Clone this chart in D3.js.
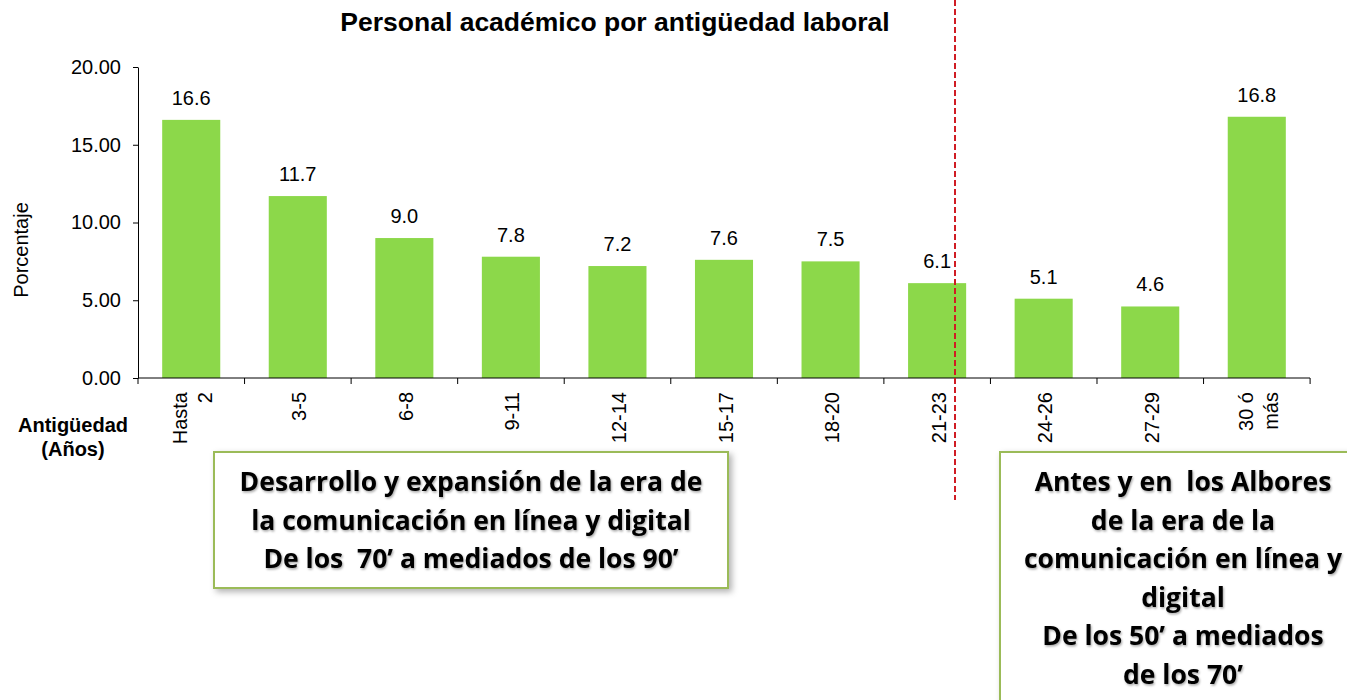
<!DOCTYPE html>
<html lang="es">
<head>
    <meta charset="UTF-8">
    <title>Personal académico por antigüedad laboral</title>
    <style>
        body { margin: 0; background: #fff; }
        svg { display: block; font-family: "Liberation Sans", Arial, sans-serif; }
    </style>
</head>
<body>
    <script src="https://cdn.jsdelivr.net/npm/d3@7"></script>
    <script>
        const W = 1347, H = 700;

        // datos
        const categorias = ["Hasta|2", "3-5", "6-8", "9-11", "12-14", "15-17", "18-20", "21-23", "24-26", "27-29", "30 ó|más"];
        const porcentajes = [16.6, 11.7, 9.0, 7.8, 7.2, 7.6, 7.5, 6.1, 5.1, 4.6, 16.8];
        const ticksY = [0, 5, 10, 15, 20];

        const caja1 = ["Desarrollo y expansión de la era de", "la comunicación en línea y digital", "De los  70’ a mediados de los 90’"];
        const caja2 = ["Antes y en  los Albores", "de la era de la", "comunicación en línea y", "digital", "De los 50’ a mediados", "de los 70’"];

        const svg = d3.select("body").append("svg")
            .attr("width", W)
            .attr("height", H);

        const defs = svg.append("defs");
        const sombra = defs.append("filter").attr("id", "sombra")
            .attr("x", "-10%").attr("y", "-10%").attr("width", "130%").attr("height", "130%");
        sombra.append("feDropShadow").attr("dx", 3).attr("dy", 3).attr("stdDeviation", 3)
            .attr("flood-color", "#000").attr("flood-opacity", 0.3);
        const sombraTxt = defs.append("filter").attr("id", "sombraTxt");
        sombraTxt.append("feDropShadow").attr("dx", 1).attr("dy", 1.5).attr("stdDeviation", 1)
            .attr("flood-color", "#000").attr("flood-opacity", 0.35);

        const izq = 138, der = 1310, arriba = 67, abajo = 378;

        const x = d3.scaleBand()
            .domain(categorias)
            .range([izq, der])
            .paddingInner(0.455)
            .paddingOuter(0.227);

        const y = d3.scaleLinear()
            .domain([0, 20])
            .range([abajo, arriba]);

        // título
        svg.append("text")
            .attr("x", 615).attr("y", 31)
            .attr("text-anchor", "middle")
            .style("font-size", "26.5px").style("font-weight", "bold")
            .text("Personal académico por antigüedad laboral");

        // barras
        svg.selectAll("rect.barra")
            .data(porcentajes)
            .join("rect")
            .attr("class", "barra")
            .attr("x", (d, i) => x(categorias[i]))
            .attr("y", d => y(d))
            .attr("width", x.bandwidth())
            .attr("height", d => y(0) - y(d))
            .attr("fill", "#8cd84a");

        // etiquetas de valor
        svg.selectAll("text.valor")
            .data(porcentajes)
            .join("text")
            .attr("class", "valor")
            .attr("x", (d, i) => x(categorias[i]) + x.bandwidth() / 2)
            .attr("y", d => y(d) - 15)
            .attr("text-anchor", "middle")
            .style("font-size", "20px")
            .text(d => d.toFixed(1));

        // eje y
        const ejeY = svg.append("g")
            .attr("transform", `translate(${izq},0)`)
            .call(d3.axisLeft(y).tickValues(ticksY).tickFormat(d3.format(".2f")).tickSize(5).tickSizeOuter(0));
        ejeY.selectAll("text").style("font-size", "20px").attr("fill", "#000").attr("x", -17);
        ejeY.selectAll("line, path").attr("stroke", "#000");

        // eje x con marcas entre categorías
        const ejeX = svg.append("g").attr("transform", `translate(0,${abajo})`);
        ejeX.append("line").attr("x1", izq).attr("x2", der).attr("stroke", "#000");
        ejeX.selectAll("line.marca")
            .data(d3.range(categorias.length + 1))
            .join("line")
            .attr("class", "marca")
            .attr("x1", i => izq + i * x.step())
            .attr("x2", i => izq + i * x.step())
            .attr("y1", 0).attr("y2", 6)
            .attr("stroke", "#000");

        // etiquetas del eje x (giradas)
        const etiq = svg.selectAll("text.cat")
            .data(categorias)
            .join("text")
            .attr("class", "cat")
            .attr("transform", d => `translate(${x(d) + x.bandwidth() / 2},${abajo + 14}) rotate(-90)`)
            .attr("text-anchor", "end")
            .style("font-size", "20px");
        etiq.each(function (d) {
            const lineas = d.split("|");
            const t = d3.select(this);
            lineas.forEach((l, k) => {
                const off = (k - (lineas.length - 1) / 2) * 25 + 8.5;
                t.append("tspan").attr("x", 0).attr("y", off).text(l);
            });
        });

        // título eje y
        svg.append("text")
            .attr("transform", "translate(28,250) rotate(-90)")
            .attr("text-anchor", "middle")
            .style("font-size", "20px")
            .text("Porcentaje");

        // título eje x
        const tituloX = svg.append("text")
            .attr("text-anchor", "middle")
            .style("font-size", "20px").style("font-weight", "bold");
        tituloX.append("tspan").attr("x", 73).attr("y", 432).text("Antigüedad");
        tituloX.append("tspan").attr("x", 73).attr("y", 456).text("(Años)");

        // línea divisoria roja
        svg.append("line")
            .attr("x1", 955).attr("x2", 955)
            .attr("y1", 0).attr("y2", 500)
            .attr("stroke", "#d01c24")
            .attr("stroke-width", 2)
            .attr("stroke-dasharray", "6,3");

        // cajas de texto
        function caja(x0, y0, w, h, lineas, cx, y1) {
            svg.append("rect")
                .attr("x", x0).attr("y", y0).attr("width", w).attr("height", h)
                .attr("fill", "#fff")
                .attr("stroke", "#9bbb59").attr("stroke-width", 2)
                .attr("filter", "url(#sombra)");
            svg.append("g").attr("filter", "url(#sombraTxt)")
                .selectAll("text")
                .data(lineas)
                .join("text")
                .attr("x", cx)
                .attr("y", (d, i) => y1 + i * 38.5)
                .attr("text-anchor", "middle")
                .style("font-family", "'Open Sans', Lato, sans-serif")
                .style("font-size", "26.5px").style("font-weight", "bold")
                .style("white-space", "pre")
                .text(d => d);
        }
        caja(214, 452, 514, 136, caja1, 471, 491);
        caja(1000, 452, 360, 260, caja2, 1183, 491);
    </script>
</body>
</html>
